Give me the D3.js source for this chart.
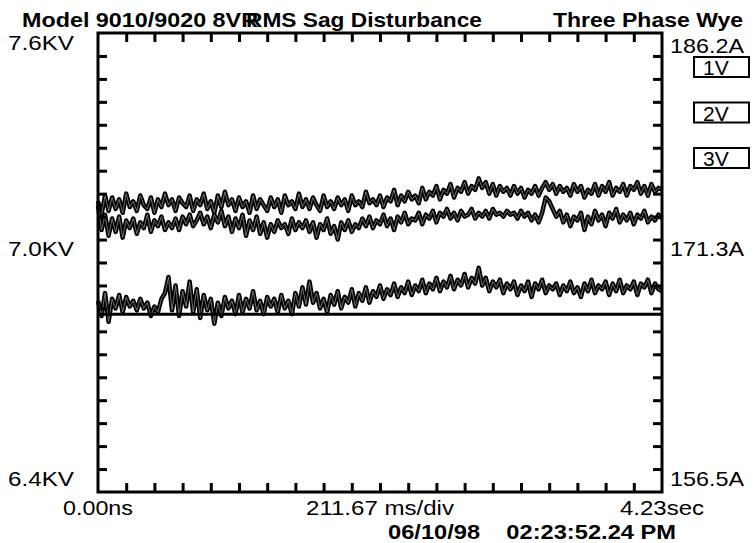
<!DOCTYPE html>
<html>
<head>
<meta charset="utf-8">
<script src="https://cdn.jsdelivr.net/npm/d3@7"></script>
<style>
  body { margin: 0; background: #fff; }
  svg { font-family: "Liberation Sans", Arial, sans-serif; }
</style>
</head>
<body>
<svg id="chart" width="753" height="543"></svg>
<script>
// Three phase RMS voltage traces (KV), one sample per step
const phase1 = [
  7.160,7.125,7.175,7.135,7.170,7.140,7.165,7.130,7.180,7.145,
  7.160,7.135,7.175,7.150,7.140,7.170,7.130,7.165,7.145,7.180,
  7.150,7.165,7.135,7.170,7.155,7.145,7.175,7.135,7.165,7.150,
  7.180,7.140,7.160,7.130,7.175,7.145,7.185,7.150,7.165,7.135,
  7.170,7.145,7.160,7.130,7.175,7.140,7.165,7.150,7.135,7.170,
  7.145,7.165,7.130,7.175,7.150,7.160,7.140,7.180,7.145,7.165,
  7.140,7.170,7.150,7.135,7.175,7.145,7.160,7.140,7.170,7.150,
  7.165,7.135,7.175,7.150,7.160,7.145,7.185,7.155,7.165,7.150,
  7.175,7.145,7.170,7.160,7.190,7.150,7.175,7.160,7.185,7.165,
  7.175,7.155,7.195,7.165,7.185,7.175,7.200,7.165,7.190,7.180,
  7.205,7.170,7.195,7.185,7.210,7.180,7.200,7.190,7.220,7.195,
  7.210,7.180,7.205,7.175,7.200,7.185,7.195,7.175,7.200,7.180,
  7.195,7.170,7.190,7.180,7.200,7.175,7.195,7.210,7.190,7.205,
  7.180,7.200,7.185,7.195,7.175,7.205,7.185,7.200,7.170,7.190,
  7.180,7.205,7.175,7.200,7.185,7.210,7.175,7.195,7.185,7.205,
  7.175,7.200,7.190,7.210,7.180,7.200,7.175,7.205,7.185,7.195,
  7.190
];
const phase2 = [
  7.150,7.085,7.125,7.070,7.115,7.080,7.120,7.065,7.110,7.090,
  7.115,7.075,7.105,7.090,7.125,7.080,7.110,7.095,7.120,7.085,
  7.105,7.090,7.115,7.085,7.120,7.100,7.125,7.095,7.110,7.130,
  7.100,7.120,7.090,7.125,7.105,7.135,7.095,7.120,7.080,7.115,
  7.090,7.125,7.070,7.110,7.085,7.120,7.075,7.105,7.065,7.100,
  7.080,7.110,7.090,7.100,7.075,7.115,7.085,7.105,7.090,7.110,
  7.080,7.105,7.065,7.100,7.085,7.115,7.075,7.095,7.060,7.105,
  7.085,7.110,7.080,7.100,7.090,7.115,7.095,7.120,7.090,7.110,
  7.100,7.125,7.095,7.115,7.085,7.120,7.105,7.130,7.100,7.115,
  7.110,7.130,7.100,7.125,7.115,7.135,7.105,7.130,7.120,7.140,
  7.115,7.130,7.110,7.135,7.120,7.125,7.140,7.115,7.130,7.120,
  7.135,7.115,7.140,7.125,7.130,7.120,7.135,7.125,7.130,7.115,
  7.135,7.120,7.130,7.110,7.125,7.105,7.130,7.170,7.160,7.140,
  7.120,7.135,7.105,7.125,7.095,7.120,7.110,7.130,7.085,7.120,
  7.100,7.135,7.110,7.125,7.095,7.130,7.115,7.140,7.105,7.125,
  7.110,7.130,7.100,7.125,7.115,7.135,7.105,7.120,7.110,7.125,
  7.115
];
const phase3 = [
  6.900,6.860,6.920,6.845,6.905,6.880,6.915,6.870,6.910,6.885,
  6.900,6.875,6.905,6.880,6.895,6.860,6.885,6.870,6.905,6.920,
  6.962,6.875,6.940,6.860,6.925,6.885,6.950,6.870,6.930,6.855,
  6.915,6.875,6.905,6.840,6.895,6.860,6.910,6.880,6.900,6.865,
  6.915,6.870,6.905,6.880,6.925,6.875,6.900,6.865,6.910,6.885,
  6.905,6.870,6.915,6.880,6.900,6.865,6.920,6.885,6.935,6.890,
  6.950,6.895,6.920,6.880,6.905,6.870,6.915,6.890,6.925,6.880,
  6.910,6.895,6.930,6.885,6.920,6.900,6.935,6.895,6.925,6.910,
  6.940,6.905,6.930,6.915,6.945,6.910,6.935,6.920,6.950,6.915,
  6.940,6.925,6.955,6.920,6.945,6.930,6.960,6.925,6.950,6.935,
  6.965,6.930,6.955,6.940,6.970,6.935,6.960,6.945,6.986,6.940,
  6.960,6.925,6.950,6.935,6.955,6.920,6.945,6.930,6.950,6.915,
  6.940,6.925,6.950,6.910,6.945,6.930,6.955,6.920,6.940,6.930,
  6.945,6.915,6.940,6.925,6.950,6.920,6.935,6.910,6.945,6.925,
  6.955,6.920,6.940,6.930,6.950,6.915,6.945,6.925,6.955,6.920,
  6.940,6.930,6.950,6.915,6.945,6.935,6.955,6.920,6.945,6.930,
  6.925
];

const sagThreshold = 6.865;          // KV, horizontal limit line
const voltRange = [6.4, 7.6];         // KV
const duration = 4.23;                // sec
const voltLabels = ["7.6KV", "7.0KV", "6.4KV"];
const voltLabelAt = [7.6, 7.0, 6.4];
const ampLabels = ["186.2A", "171.3A", "156.5A"];
const legendNames = ["1V", "2V", "3V"];
const timeLabels = ["0.00ns", "211.67 ms/div", "4.23sec"];

const svg = d3.select("#chart");
const margin = { top: 33, right: 91, bottom: 51, left: 98 };
const width = 753 - margin.left - margin.right;
const height = 543 - margin.top - margin.bottom;

const x = d3.scaleLinear().domain([0, duration]).range([margin.left, margin.left + width]);
const y = d3.scaleLinear().domain(voltRange).range([margin.top + height, margin.top]);

const step = duration / (phase1.length - 1);
const line = d3.line()
  .x((d, i) => x(i * step))
  .y(d => y(d));

// Traces: thick black with a faint inner line, like the doubled recorder pen
const g = svg.append("g");
[phase1, phase2, phase3].forEach(s => {
  g.append("path").datum(s)
    .attr("d", line)
    .attr("fill", "none")
    .attr("stroke", "#000")
    .attr("stroke-width", 4.5)
    .attr("stroke-linejoin", "round");
  g.append("path").datum(s)
    .attr("d", line)
    .attr("fill", "none")
    .attr("stroke", "#888")
    .attr("stroke-width", 0.8)
    .attr("stroke-linejoin", "round");
});

// Sag limit line
svg.append("line")
  .attr("x1", x(0)).attr("x2", x(duration))
  .attr("y1", y(sagThreshold)).attr("y2", y(sagThreshold))
  .attr("stroke", "#000").attr("stroke-width", 3);

// Inward ticks on all four sides
const yTicks = d3.range(1, 20).map(i => voltRange[0] + i * (voltRange[1] - voltRange[0]) / 20);
const xTicks = d3.range(1, 20).map(i => i * duration / 20);

function styleAxis(sel) {
  sel.select(".domain").remove();
  sel.selectAll(".tick line").attr("stroke", "#000").attr("stroke-width", 3);
  sel.selectAll(".tick text").remove();
}

svg.append("g").attr("transform", `translate(${margin.left},0)`)
  .call(d3.axisLeft(y).tickValues(yTicks).tickSize(-9)).call(styleAxis);
svg.append("g").attr("transform", `translate(${margin.left + width},0)`)
  .call(d3.axisRight(y).tickValues(yTicks).tickSize(-9)).call(styleAxis);
svg.append("g").attr("transform", `translate(0,${margin.top})`)
  .call(d3.axisTop(x).tickValues(xTicks).tickSize(-9)).call(styleAxis);
svg.append("g").attr("transform", `translate(0,${margin.top + height})`)
  .call(d3.axisBottom(x).tickValues(xTicks).tickSize(-9)).call(styleAxis);

// Frame
svg.append("rect")
  .attr("x", margin.left).attr("y", margin.top)
  .attr("width", width).attr("height", height)
  .attr("fill", "none").attr("stroke", "#000").attr("stroke-width", 3);

// Voltage labels (left) and current labels (right)
const labelY = [50, 256, 486];
svg.selectAll(".vlab").data(voltLabels).join("text")
  .attr("class", "vlab")
  .attr("x", 8)
  .attr("y", (d, i) => labelY[i])
  .attr("font-size", 21)
  .attr("textLength", 66).attr("lengthAdjust", "spacingAndGlyphs")
  .text(d => d);

svg.selectAll(".alab").data(ampLabels).join("text")
  .attr("class", "alab")
  .attr("x", 670)
  .attr("y", (d, i) => labelY[i] + (i === 0 ? 3 : 0))
  .attr("font-size", 21)
  .attr("textLength", 74).attr("lengthAdjust", "spacingAndGlyphs")
  .text(d => d);

// Phase legend boxes
const legend = svg.selectAll(".leg").data(legendNames).join("g")
  .attr("class", "leg")
  .attr("transform", (d, i) => `translate(694,${57 + i * 45.5})`);
legend.append("rect")
  .attr("width", 55).attr("height", 20)
  .attr("fill", "#fff").attr("stroke", "#000").attr("stroke-width", 2);
legend.append("text")
  .attr("x", 9).attr("y", 18)
  .attr("font-size", 21)
  .text(d => d);

// Titles
const title = svg.append("g").attr("font-size", 21).attr("font-weight", "bold");
title.append("text").attr("x", 22).attr("y", 27)
  .attr("textLength", 236).attr("lengthAdjust", "spacingAndGlyphs")
  .text("Model 9010/9020 8VR");
title.append("text").attr("x", 246).attr("y", 27)
  .attr("textLength", 236).attr("lengthAdjust", "spacingAndGlyphs")
  .text("RMS Sag Disturbance");
title.append("text").attr("x", 553).attr("y", 27)
  .attr("textLength", 190).attr("lengthAdjust", "spacingAndGlyphs")
  .text("Three Phase Wye");

// Time labels centred under the start, middle and end of the axis
const timeAt = [0, duration / 2, duration];
const timeLen = [70, 148, 84];
svg.selectAll(".tlab").data(timeLabels).join("text")
  .attr("class", "tlab")
  .attr("x", (d, i) => x(timeAt[i]) - timeLen[i] / 2)
  .attr("y", 515)
  .attr("font-size", 21)
  .attr("textLength", (d, i) => timeLen[i]).attr("lengthAdjust", "spacingAndGlyphs")
  .text(d => d);

svg.append("text").attr("x", 388).attr("y", 539)
  .attr("font-size", 21).attr("font-weight", "bold")
  .attr("textLength", 288).attr("lengthAdjust", "spacingAndGlyphs")
  .attr("xml:space", "preserve")
  .text("06/10/98    02:23:52.24 PM");
</script>
</body>
</html>
